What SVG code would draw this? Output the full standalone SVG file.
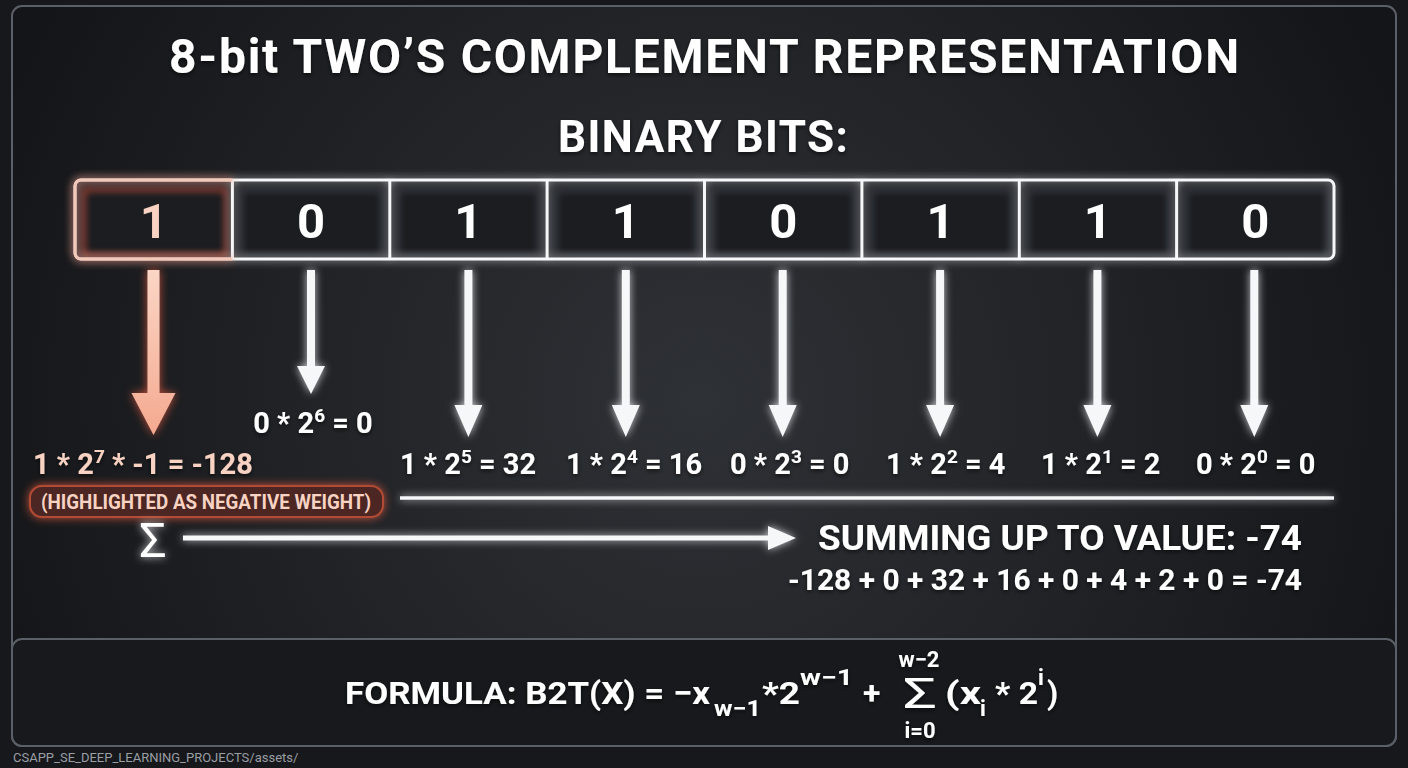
<svg xmlns="http://www.w3.org/2000/svg" width="1408" height="768" viewBox="0 0 1408 768">
<defs>
<radialGradient id="bg" cx="700" cy="400" r="760" gradientUnits="userSpaceOnUse">
<stop offset="0" stop-color="#2e3135"/>
<stop offset="0.55" stop-color="#202226"/>
<stop offset="1" stop-color="#141518"/>
</radialGradient>
<linearGradient id="redArrow" x1="0" y1="268" x2="0" y2="436" gradientUnits="userSpaceOnUse">
<stop offset="0" stop-color="#fbd6c6"/>
<stop offset="1" stop-color="#f4a98f"/>
</linearGradient>
<filter id="glowW" filterUnits="userSpaceOnUse" x="0" y="0" width="1408" height="768">
<feGaussianBlur in="SourceGraphic" stdDeviation="4" result="b"/>
<feComponentTransfer in="b" result="b2"><feFuncA type="linear" slope="0.8"/></feComponentTransfer>
<feMerge><feMergeNode in="b2"/><feMergeNode in="SourceGraphic"/></feMerge>
</filter>
<filter id="glowR" filterUnits="userSpaceOnUse" x="0" y="0" width="1408" height="768">
<feGaussianBlur in="SourceAlpha" stdDeviation="5" result="b"/>
<feFlood flood-color="#d2553c" flood-opacity="0.9"/>
<feComposite in2="b" operator="in" result="g"/>
<feMerge><feMergeNode in="g"/><feMergeNode in="SourceGraphic"/></feMerge>
</filter>
<filter id="soft" filterUnits="userSpaceOnUse" x="0" y="0" width="1408" height="768">
<feGaussianBlur stdDeviation="3"/>
</filter>
<filter id="shadow" filterUnits="userSpaceOnUse" x="0" y="0" width="1408" height="768">
<feDropShadow dx="0" dy="2" stdDeviation="2" flood-color="#000" flood-opacity="0.6"/>
</filter>
</defs>
<style>
text{font-family:Roboto,"Liberation Sans",sans-serif;font-weight:700;fill:#ffffff}
.digit{font-size:49px;text-anchor:middle}
.lbl{font-size:29px}
.sup{font-size:19px}
.peach{fill:#f8d2c2}
.cell{fill:#1b1d21;stroke:none}
.inner{fill:none;stroke:#8a96a4;stroke-width:3;opacity:0.35}
.wline{stroke:#f5f7f9;fill:none}
.fx{font-size:32px}
.fs{font-size:22px}
</style>

<rect width="1408" height="768" fill="#17181b"/>
<rect x="12" y="6" width="1384" height="740" rx="10" fill="url(#bg)" stroke="#5b6068" stroke-width="2"/>

<g id="title" filter="url(#shadow)">
<text x="704" y="73" font-size="48" text-anchor="middle" textLength="1070">8-bit TWO’S COMPLEMENT REPRESENTATION</text>
<text x="703" y="152" font-size="44" text-anchor="middle" textLength="290">BINARY BITS:</text>
</g>

<g id="bits">
<g id="cells">
<rect class="cell" x="77" y="182" width="1255" height="75"/>
<rect x="84" y="190" width="142" height="65" fill="none" stroke="#c8503a" stroke-width="4" opacity="0.75" filter="url(#soft)"/>
<rect class="inner" x="241" y="190" width="141" height="65" filter="url(#soft)"/>
<rect class="inner" x="398" y="190" width="141" height="65" filter="url(#soft)"/>
<rect class="inner" x="556" y="190" width="141" height="65" filter="url(#soft)"/>
<rect class="inner" x="713" y="190" width="141" height="65" filter="url(#soft)"/>
<rect class="inner" x="871" y="190" width="141" height="65" filter="url(#soft)"/>
<rect class="inner" x="1028" y="190" width="141" height="65" filter="url(#soft)"/>
<rect class="inner" x="1186" y="190" width="141" height="65" filter="url(#soft)"/>
</g>
<g filter="url(#glowW)">
<rect x="75" y="180" width="1259" height="79" rx="6" class="wline" stroke-width="3"/>
<line x1="232.4" y1="180" x2="232.4" y2="259" class="wline" stroke-width="3"/>
<line x1="389.8" y1="180" x2="389.8" y2="259" class="wline" stroke-width="3"/>
<line x1="547.1" y1="180" x2="547.1" y2="259" class="wline" stroke-width="3"/>
<line x1="704.5" y1="180" x2="704.5" y2="259" class="wline" stroke-width="3"/>
<line x1="861.9" y1="180" x2="861.9" y2="259" class="wline" stroke-width="3"/>
<line x1="1019.3" y1="180" x2="1019.3" y2="259" class="wline" stroke-width="3"/>
<line x1="1176.6" y1="180" x2="1176.6" y2="259" class="wline" stroke-width="3"/>
</g>
<path d="M232.4 180 H81 A6 6 0 0 0 75 186 V253 A6 6 0 0 0 81 259 H232.4" fill="none" stroke="#f4c8b8" stroke-width="3" filter="url(#glowR)"/>
<g id="bit7"><text class="digit peach" x="153.7" y="238">1</text></g>
<g id="bit6"><text class="digit" x="311.1" y="238">0</text></g>
<g id="bit5"><text class="digit" x="468.4" y="238">1</text></g>
<g id="bit4"><text class="digit" x="625.8" y="238">1</text></g>
<g id="bit3"><text class="digit" x="783.2" y="238">0</text></g>
<g id="bit2"><text class="digit" x="940.6" y="238">1</text></g>
<g id="bit1"><text class="digit" x="1097.9" y="238">1</text></g>
<g id="bit0"><text class="digit" x="1255.3" y="238">0</text></g>
</g>

<g id="connectors">
<g filter="url(#glowR)">
<path d="M147.5 270 H159.5 V393 H175.5 L153.5 435 L131.5 393 H147.5 Z" fill="url(#redArrow)"/>
</g>
<g filter="url(#glowW)" fill="#f5f7f9">
<path d="M307 270 H315 V366 H325 L311 394 L297 366 H307 Z"/>
<path d="M464.4 270 H472.4 V405 H482.4 L468.4 437 L454.4 405 H464.4 Z"/>
<path d="M621.8 270 H629.8 V405 H639.8 L625.8 437 L611.8 405 H621.8 Z"/>
<path d="M778.7 270 H786.7 V405 H796.7 L782.7 437 L768.7 405 H778.7 Z"/>
<path d="M936.1 270 H944.1 V405 H954.1 L940.1 437 L926.1 405 H936.1 Z"/>
<path d="M1093.4 270 H1101.4 V405 H1111.4 L1097.4 437 L1083.4 405 H1093.4 Z"/>
<path d="M1250.3 270 H1258.3 V405 H1268.3 L1254.3 437 L1240.3 405 H1250.3 Z"/>
<line x1="400" y1="498" x2="1334" y2="498" stroke="#f5f7f9" stroke-width="3.5"/>
<path d="M183 535.5 H768 V526 L796 538 L768 550 V540.5 H183 Z"/>
</g>
</g>

<g id="labels" filter="url(#shadow)">
<text class="lbl peach" x="33" y="474">1 * 2<tspan class="sup" dy="-11">7</tspan><tspan dy="11"> * -1 = -128</tspan></text>
<text class="lbl" x="313" y="433" text-anchor="middle">0 * 2<tspan class="sup" dy="-11">6</tspan><tspan dy="11"> = 0</tspan></text>
<text class="lbl" x="400" y="474">1 * 2<tspan class="sup" dy="-11">5</tspan><tspan dy="11"> = 32</tspan></text>
<text class="lbl" x="566" y="474">1 * 2<tspan class="sup" dy="-11">4</tspan><tspan dy="11"> = 16</tspan></text>
<text class="lbl" x="730" y="474">0 * 2<tspan class="sup" dy="-11">3</tspan><tspan dy="11"> = 0</tspan></text>
<text class="lbl" x="886" y="474">1 * 2<tspan class="sup" dy="-11">2</tspan><tspan dy="11"> = 4</tspan></text>
<text class="lbl" x="1041" y="474">1 * 2<tspan class="sup" dy="-11">1</tspan><tspan dy="11"> = 2</tspan></text>
<text class="lbl" x="1196" y="474">0 * 2<tspan class="sup" dy="-11">0</tspan><tspan dy="11"> = 0</tspan></text>
</g>

<g id="negative-note">
<rect x="30" y="486" width="353" height="31" rx="12" fill="#4c2720" stroke="#b24c36" stroke-width="2" filter="url(#glowR)"/>
<text x="206" y="509" font-size="20" text-anchor="middle" class="peach" textLength="330" lengthAdjust="spacingAndGlyphs">(HIGHLIGHTED AS NEGATIVE WEIGHT)</text>
</g>

<g id="sum">
<text x="153" y="557" font-size="48" text-anchor="middle" filter="url(#glowW)" style="font-weight:400">Σ</text>
<text x="1302" y="550" font-size="35" text-anchor="end" textLength="484" lengthAdjust="spacingAndGlyphs" filter="url(#shadow)">SUMMING UP TO VALUE: -74</text>
<text x="1302" y="590" font-size="29" text-anchor="end" textLength="514" lengthAdjust="spacingAndGlyphs" filter="url(#shadow)">-128 + 0 + 32 + 16 + 0 + 4 + 2 + 0 = -74</text>
</g>

<g id="formula">
<rect x="12" y="639" width="1384" height="107" rx="10" fill="#17191c" stroke="#5b6068" stroke-width="2"/>
<g filter="url(#shadow)">
<text class="fx" x="345" y="704" textLength="365" lengthAdjust="spacingAndGlyphs">FORMULA: B2T(X) = −x</text>
<text class="fs" x="714" y="716" textLength="47" lengthAdjust="spacingAndGlyphs">w−1</text>
<text class="fx" x="762" y="704" textLength="38" lengthAdjust="spacingAndGlyphs">*2</text>
<text class="fs" x="800" y="685" textLength="53" lengthAdjust="spacingAndGlyphs">w−1</text>
<text class="fx" x="863" y="704">+</text>
<text x="920" y="708" font-size="42" text-anchor="middle" textLength="34" lengthAdjust="spacingAndGlyphs" style="font-weight:400">Σ</text>
<text class="fs" x="919" y="667" text-anchor="middle">w−2</text>
<text class="fs" x="920" y="738" text-anchor="middle">i=0</text>
<text class="fx" x="945" y="704" textLength="36" lengthAdjust="spacingAndGlyphs">(x</text>
<text class="fs" x="980" y="716">i</text>
<text class="fx" x="995" y="704" textLength="43" lengthAdjust="spacingAndGlyphs">* 2</text>
<text class="fs" x="1038" y="685">i</text>
<text class="fx" x="1047" y="704">)</text>
</g>
</g>

<text x="13" y="762" font-size="13" style="font-weight:400;fill:#9a9ea5">CSAPP_SE_DEEP_LEARNING_PROJECTS/assets/</text>
</svg>
